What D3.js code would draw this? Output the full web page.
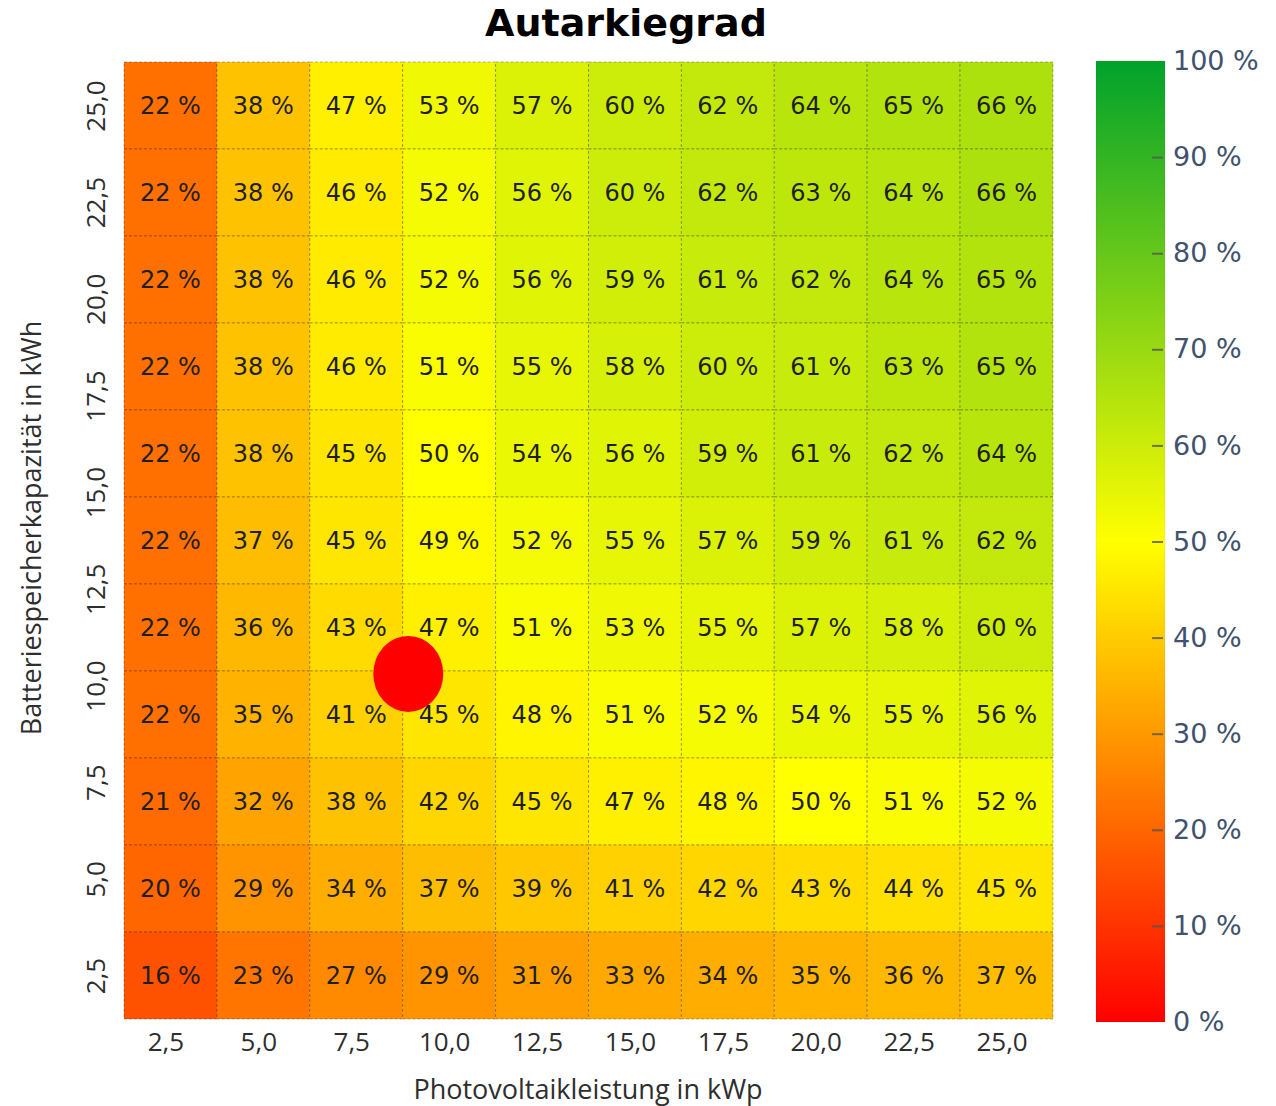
<!DOCTYPE html>
<html>
<head>
<meta charset="utf-8">
<script src="https://cdn.jsdelivr.net/npm/d3@7"></script>
<style>
  body { margin: 0; background: #fff; }
  svg { display: block; }
</style>
</head>
<body>
<div id="chart"></div>
<script>
// PV power (columns) and battery capacity (rows, top to bottom)
var pvValues = [2.5, 5, 7.5, 10, 12.5, 15, 17.5, 20, 22.5, 25];
var batteryValues = [25, 22.75, 20.5, 18.25, 16, 13.75, 11.5, 9.25, 7, 4.75, 2.5];

// Autarkiegrad in %, one row per battery value
var autarkie = [
  [22, 38, 47, 53, 57, 60, 62, 64, 65, 66],
  [22, 38, 46, 52, 56, 60, 62, 63, 64, 66],
  [22, 38, 46, 52, 56, 59, 61, 62, 64, 65],
  [22, 38, 46, 51, 55, 58, 60, 61, 63, 65],
  [22, 38, 45, 50, 54, 56, 59, 61, 62, 64],
  [22, 37, 45, 49, 52, 55, 57, 59, 61, 62],
  [22, 36, 43, 47, 51, 53, 55, 57, 58, 60],
  [22, 35, 41, 45, 48, 51, 52, 54, 55, 56],
  [21, 32, 38, 42, 45, 47, 48, 50, 51, 52],
  [20, 29, 34, 37, 39, 41, 42, 43, 44, 45],
  [16, 23, 27, 29, 31, 33, 34, 35, 36, 37]
];

var xTicks = [2.5, 5, 7.5, 10, 12.5, 15, 17.5, 20, 22.5, 25];
var yTicks = [2.5, 5, 7.5, 10, 12.5, 15, 17.5, 20, 22.5, 25];
var colorTicks = [0, 10, 20, 30, 40, 50, 60, 70, 80, 90, 100];

// current system marker
var markerPoint = [8.9, 10.3];

var de = d3.formatLocale({decimal: ",", thousands: ".", grouping: [3], currency: ["", " €"]});
var fmt1 = de.format(".1f");

var width = 1276, height = 1106;
var plot = {left: 124, right: 1053, top: 62, bottom: 1019};

var svg = d3.select("#chart").append("svg")
  .attr("width", width)
  .attr("height", height);

var x = d3.scaleLinear().domain([1.25, 26.25]).range([plot.left, plot.right]);
var y = d3.scaleLinear().domain([1.375, 26.125]).range([plot.bottom, plot.top]);
var color = d3.scaleLinear().domain([0, 50, 100]).range(["#ff0000", "#ffff00", "#00a22c"]);

var cells = [];
batteryValues.forEach(function(b, r) {
  pvValues.forEach(function(p, c) {
    cells.push({pv: p, bat: b, v: autarkie[r][c]});
  });
});

var halfX = 1.25, halfY = 1.125;

svg.append("g").selectAll("rect")
  .data(cells)
  .enter()
  .append("rect")
  .attr("x", function(d) { return x(d.pv - halfX); })
  .attr("y", function(d) { return y(d.bat + halfY); })
  .attr("width", function(d) { return x(d.pv + halfX) - x(d.pv - halfX); })
  .attr("height", function(d) { return y(d.bat - halfY) - y(d.bat + halfY); })
  .style("fill", function(d) { return color(d.v); })
  .style("stroke", "rgba(0,0,0,0.28)")
  .style("stroke-width", 1)
  .style("stroke-dasharray", "3,2");

svg.append("g").selectAll("text")
  .data(cells)
  .enter()
  .append("text")
  .attr("x", function(d) { return x(d.pv); })
  .attr("y", function(d) { return y(d.bat); })
  .attr("dy", "0.36em")
  .attr("text-anchor", "middle")
  .style("font-family", "'DejaVu Sans', Verdana, sans-serif")
  .style("font-size", "24px")
  .style("fill", "#1e1e1e")
  .text(function(d) { return d.v + " %"; });

// marker
svg.append("ellipse")
  .attr("cx", x(markerPoint[0]))
  .attr("cy", y(markerPoint[1]))
  .attr("rx", 35)
  .attr("ry", 38)
  .style("fill", "#ff0000");

// axes
var xAxis = svg.append("g")
  .attr("transform", "translate(0," + plot.bottom + ")")
  .call(d3.axisBottom(x).tickValues(xTicks).tickFormat(fmt1).tickSize(0).tickPadding(14));
xAxis.select(".domain").remove();
xAxis.selectAll("text")
  .attr("dx", -5)
  .style("font-family", "'Open Sans', sans-serif")
  .style("font-size", "26px")
  .style("fill", "#2e2e2e");

var yAxis = svg.append("g")
  .attr("transform", "translate(" + plot.left + ",0)")
  .call(d3.axisLeft(y).tickValues(yTicks).tickFormat(fmt1).tickSize(0));
yAxis.select(".domain").remove();
yAxis.selectAll("text")
  .attr("x", 0)
  .attr("dy", 0)
  .attr("text-anchor", "middle")
  .attr("transform", function(d) { return "translate(-20," + (y(d) - y(d)) + ") rotate(-90)"; })
  .style("font-family", "'Open Sans', sans-serif")
  .style("font-size", "26px")
  .style("fill", "#2e2e2e");
// rotate each tick label around its own position
yAxis.selectAll(".tick text")
  .attr("transform", "translate(-19,0) rotate(-90)");

svg.append("text")
  .attr("x", 588)
  .attr("y", 1099)
  .attr("text-anchor", "middle")
  .style("font-family", "'Open Sans', sans-serif")
  .style("font-size", "27px")
  .style("fill", "#2e2e2e")
  .text("Photovoltaikleistung in kWp");

svg.append("text")
  .attr("transform", "translate(41,528) rotate(-90)")
  .attr("text-anchor", "middle")
  .style("font-family", "'Open Sans', sans-serif")
  .style("font-size", "27px")
  .style("fill", "#2e2e2e")
  .text("Batteriespeicherkapazität in kWh");

// title
svg.append("text")
  .attr("x", 626)
  .attr("y", 36)
  .attr("text-anchor", "middle")
  .style("font-family", "'DejaVu Sans', Verdana, sans-serif")
  .style("font-weight", "bold")
  .style("font-size", "38px")
  .style("fill", "#000")
  .text("Autarkiegrad");

// colour bar
var cb = {x: 1096, w: 69, top: 61, bottom: 1022};
var cy = d3.scaleLinear().domain([0, 100]).range([cb.bottom, cb.top]);

var grad = svg.append("defs").append("linearGradient")
  .attr("id", "cbgrad")
  .attr("x1", 0).attr("y1", 1).attr("x2", 0).attr("y2", 0);
grad.selectAll("stop")
  .data(color.domain())
  .enter()
  .append("stop")
  .attr("offset", function(d) { return d / 100; })
  .attr("stop-color", function(d) { return color(d); });

svg.append("rect")
  .attr("x", cb.x)
  .attr("y", cb.top)
  .attr("width", cb.w)
  .attr("height", cb.bottom - cb.top)
  .style("fill", "url(#cbgrad)")
  .style("stroke", "rgba(0,0,0,0.06)")
  .style("stroke-width", 1);

var cAxis = svg.append("g")
  .attr("transform", "translate(" + (cb.x + 56) + ",0)")
  .call(d3.axisRight(cy).tickValues(colorTicks).tickSize(11).tickPadding(10)
    .tickFormat(function(d) { return d + " %"; }));
cAxis.select(".domain").remove();
cAxis.selectAll(".tick line")
  .style("stroke", "#555")
  .style("stroke-width", 2)
  .style("opacity", function(d) { return (d === 0 || d === 100) ? 0 : 0.8; });
cAxis.selectAll("text")
  .style("font-family", "'DejaVu Sans', Verdana, sans-serif")
  .style("font-size", "27px")
  .style("fill", "#41526e");
</script>
</body>
</html>
